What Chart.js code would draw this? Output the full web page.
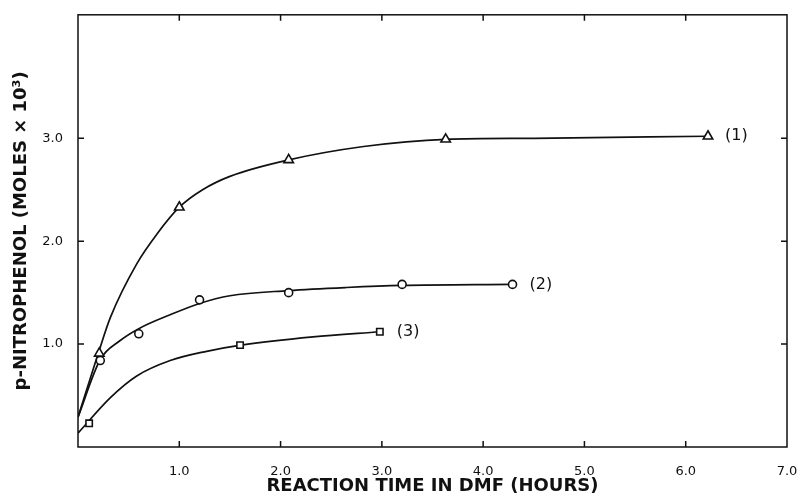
<!DOCTYPE html>
<html>
<head>
<meta charset="utf-8">
<script src="https://cdn.jsdelivr.net/npm/chart.js@4"></script>
<style>
  html, body { margin: 0; padding: 0; background: #fff; }
  #wrap { width: 800px; height: 501px; }
</style>
</head>
<body>
<div id="wrap"><canvas id="chart" width="800" height="501"></canvas></div>
<script>
// 数据
// 平滑曲线上读取的点
const curveT1 = [0, 0.2, 0.32, 0.58, 0.78, 1.0, 1.23, 1.5, 2.08, 2.82, 3.63, 4.5, 6.22];
const curveV1 = [0.29, 0.91, 1.26, 1.78, 2.07, 2.33, 2.5, 2.63, 2.79, 2.92, 2.99, 3.0, 3.02];
const curveT2 = [0, 0.22, 0.41, 0.6, 0.91, 1.2, 1.5, 2.08, 2.65, 3.2, 4.29];
const curveV2 = [0.29, 0.85, 1.03, 1.15, 1.285, 1.395, 1.47, 1.52, 1.55, 1.57, 1.58];
const curveT3 = [0, 0.32, 0.58, 0.91, 1.27, 1.61, 2.32, 2.98];
const curveV3 = [0.135, 0.48, 0.69, 0.84, 0.93, 0.99, 1.07, 1.12];
// 实验点
const timeTri = [0.21, 1.0, 2.08, 3.63, 6.22];
const molesTri = [0.91, 2.33, 2.79, 2.99, 3.02];
const timeCirc = [0.22, 0.6, 1.2, 2.08, 3.2, 4.29];
const molesCirc = [0.84, 1.10, 1.43, 1.50, 1.58, 1.58];
const timeSq = [0.11, 1.6, 2.98];
const molesSq = [0.23, 0.99, 1.12];
const seriesLabels = ['(1)', '(2)', '(3)'];
const xTicks = [1, 2, 3, 4, 5, 6, 7];
const yTicks = [1, 2, 3];

const ink = '#111';
const font = '"DejaVu Sans", sans-serif';

function toPoints(xs, ys) {
    return xs.map((x, i) => ({ x: x, y: ys[i] }));
}

function makeCurve(xs, ys) {
    return {
        type: 'line',
        data: toPoints(xs, ys),
        borderColor: ink,
        borderWidth: 1.7,
        pointRadius: 0,
        pointHoverRadius: 0,
        cubicInterpolationMode: 'monotone',
        fill: false,
        order: 2
    };
}

function makeMarkers(xs, ys, style, radius, label) {
    return {
        type: 'scatter',
        label: label,
        data: toPoints(xs, ys),
        pointBorderColor: ink,
        pointBackgroundColor: '#fff',
        pointBorderWidth: 1.6,
        pointStyle: style,
        pointRadius: radius,
        pointHoverRadius: radius,
        showLine: false,
        order: 1
    };
}

// 画边框、向内的刻度和曲线编号
const framePlugin = {
    id: 'frame',
    afterDraw(chart) {
        const { ctx, chartArea: a, scales } = chart;
        const xs = scales.x, ys = scales.y;
        ctx.save();
        ctx.strokeStyle = ink;
        ctx.lineWidth = 1.5;
        ctx.strokeRect(a.left, a.top, a.right - a.left, a.bottom - a.top);
        ctx.beginPath();
        xTicks.forEach(v => {
            if (v >= 7) return;
            const px = xs.getPixelForValue(v);
            ctx.moveTo(px, a.bottom); ctx.lineTo(px, a.bottom - 6);
            ctx.moveTo(px, a.top); ctx.lineTo(px, a.top + 6);
        });
        yTicks.forEach(v => {
            const py = ys.getPixelForValue(v);
            ctx.moveTo(a.left, py); ctx.lineTo(a.left + 6, py);
            ctx.moveTo(a.right, py); ctx.lineTo(a.right - 6, py);
        });
        ctx.stroke();

        ctx.fillStyle = ink;
        ctx.font = '16px ' + font;
        ctx.textBaseline = 'middle';
        chart.data.datasets.filter(ds => ds.type === 'scatter').forEach((ds, i) => {
            const last = ds.data[ds.data.length - 1];
            ctx.fillText(seriesLabels[i], xs.getPixelForValue(last.x) + 17, ys.getPixelForValue(last.y));
        });
        ctx.restore();
    }
};

new Chart(document.getElementById('chart'), {
    type: 'scatter',
    data: {
        datasets: [
            makeCurve(curveT1, curveV1),
            makeCurve(curveT2, curveV2),
            makeCurve(curveT3, curveV3),
            makeMarkers(timeTri, molesTri, 'triangle', 5.5, '1'),
            makeMarkers(timeCirc, molesCirc, 'circle', 4, '2'),
            makeMarkers(timeSq, molesSq, 'rect', 4.5, '3')
        ]
    },
    options: {
        responsive: false,
        animation: false,
        layout: { padding: { top: 14, right: 13, left: 0, bottom: 0 } },
        plugins: { legend: { display: false }, tooltip: { enabled: false } },
        scales: {
            x: {
                type: 'linear',
                min: 0,
                max: 7,
                grid: { display: false },
                border: { display: false },
                afterFit: s => { s.height = 54; s.paddingRight = 0; s.paddingLeft = 0; },
                ticks: {
                    stepSize: 1,
                    padding: 9,
                    color: ink,
                    font: { family: font, size: 13 },
                    callback: v => xTicks.includes(v) ? v.toFixed(1) : ''
                },
                title: {
                    display: true,
                    text: 'REACTION TIME IN DMF (HOURS)',
                    color: ink,
                    font: { family: font, size: 18, weight: 'bold' },
                    padding: { top: 0, bottom: 4 }
                }
            },
            y: {
                type: 'linear',
                min: 0,
                max: 4.2,
                grid: { display: false },
                border: { display: false },
                afterFit: s => { s.width = 78; },
                ticks: {
                    stepSize: 1,
                    padding: 7,
                    color: ink,
                    font: { family: font, size: 13 },
                    callback: v => yTicks.includes(v) ? v.toFixed(1) : ''
                },
                title: {
                    display: true,
                    text: 'p-NITROPHENOL (MOLES × 10³)',
                    color: ink,
                    font: { family: font, size: 18, weight: 'bold' },
                    padding: { top: 11, bottom: 0 }
                }
            }
        }
    },
    plugins: [framePlugin]
});
</script>
</body>
</html>
